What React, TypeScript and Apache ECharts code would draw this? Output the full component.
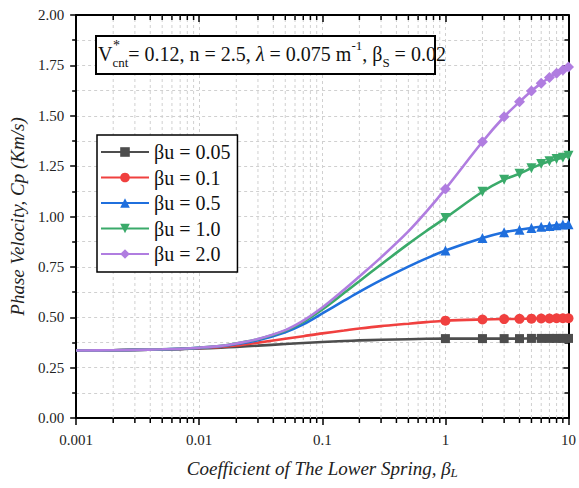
import React, { useEffect, useRef } from "react";
import * as echarts from "echarts";

const xValues = [0.001, 0.002, 0.003, 0.005, 0.007, 0.01, 0.015, 0.02, 0.03, 0.05, 0.07, 0.1, 0.15, 0.2, 0.3, 0.5, 0.7, 1, 2, 3, 4, 5, 6, 7, 8, 9, 10];
const bu005 = [0.335, 0.336, 0.338, 0.34, 0.342, 0.345, 0.349, 0.353, 0.359, 0.367, 0.372, 0.377, 0.382, 0.385, 0.388, 0.391, 0.393, 0.394, 0.394, 0.394, 0.394, 0.395, 0.395, 0.395, 0.395, 0.395, 0.395];
const bu01 = [0.335, 0.336, 0.338, 0.34, 0.343, 0.347, 0.353, 0.36, 0.374, 0.393, 0.406, 0.42, 0.434, 0.444, 0.456, 0.468, 0.476, 0.483, 0.489, 0.491, 0.492, 0.493, 0.494, 0.494, 0.495, 0.495, 0.495];
const bu05 = [0.335, 0.336, 0.338, 0.34, 0.343, 0.348, 0.356, 0.367, 0.386, 0.426, 0.465, 0.519, 0.582, 0.626, 0.684, 0.751, 0.792, 0.831, 0.893, 0.922, 0.934, 0.943, 0.949, 0.953, 0.957, 0.96, 0.962];
const bu10 = [0.335, 0.336, 0.338, 0.341, 0.344, 0.349, 0.358, 0.37, 0.391, 0.433, 0.477, 0.539, 0.62, 0.679, 0.762, 0.864, 0.928, 0.993, 1.123, 1.183, 1.212, 1.24, 1.26, 1.274, 1.285, 1.292, 1.301];
const bu20 = [0.335, 0.336, 0.338, 0.341, 0.344, 0.349, 0.358, 0.37, 0.392, 0.436, 0.483, 0.548, 0.636, 0.702, 0.797, 0.926, 1.024, 1.137, 1.371, 1.495, 1.569, 1.623, 1.661, 1.69, 1.711, 1.727, 1.742];

const seriesNames = ["βu = 0.05", "βu = 0.1", "βu = 0.5", "βu = 1.0", "βu = 2.0"];
const seriesValues = [bu005, bu01, bu05, bu10, bu20];
const seriesColors = ["#4d4d4d", "#f0403f", "#1f6fdd", "#3aaa6a", "#b07de0"];
const seriesSymbols = ["rect", "circle", "triangle", "path://M0,0 L10,0 L5,9 Z", "diamond"];
const seriesSymbolSizes = [9, 10, 10, 10, 11];

const xTickLabels: Record<string, string> = { "0.001": "0.001", "0.01": "0.01", "0.1": "0.1", "1": "1", "10": "10" };
const xMinorTicks = [0.002, 0.003, 0.004, 0.005, 0.006, 0.007, 0.008, 0.009, 0.02, 0.03, 0.04, 0.05, 0.06, 0.07, 0.08, 0.09, 0.2, 0.3, 0.4, 0.5, 0.6, 0.7, 0.8, 0.9, 2, 3, 4, 5, 6, 7, 8, 9];

const FONT = "Liberation Serif";

export default function App() {
  const ref = useRef<HTMLDivElement>(null);
  useEffect(() => {
    if (!ref.current) return;
    const chart = echarts.init(ref.current, null, { renderer: "svg" });
    const lineSeries = seriesNames.map((name, i) => ({
      name,
      type: "line",
      smooth: 0.35,
      symbol: seriesSymbols[i],
      symbolSize: seriesSymbolSizes[i],
      showSymbol: true,
      z: 3 + i,
      color: seriesColors[i],
      lineStyle: { width: 2.6, color: seriesColors[i] },
      itemStyle: { color: seriesColors[i] },
      data: xValues.map((x, j) =>
        x >= 1 ? { value: [x, seriesValues[i][j]] } : { value: [x, seriesValues[i][j]], symbol: "none" }
      ),
    }));
    const minorSeries = {
      type: "custom",
      name: "minor",
      silent: true,
      clip: false,
      z: 1,
      xAxisIndex: 0,
      yAxisIndex: 0,
      data: xMinorTicks.map((x) => [x, 0]),
      encode: { x: 0, y: 1 },
      renderItem: (params: any, api: any) => {
        const x = api.value(0);
        const p0 = api.coord([x, 0]);
        const p1 = api.coord([x, 2]);
        return {
          type: "group",
          children: [
            {
              type: "line",
              shape: { x1: p0[0], y1: p0[1], x2: p1[0], y2: p1[1] },
              style: { stroke: "#d0d0d0", lineWidth: 1, lineDash: [3, 3] },
            },
            {
              type: "line",
              shape: { x1: p0[0], y1: p0[1], x2: p0[0], y2: p0[1] + 5 },
              style: { stroke: "#000", lineWidth: 1.5 },
            },
            {
              type: "line",
              shape: { x1: p1[0], y1: p1[1], x2: p1[0], y2: p1[1] + 5 },
              style: { stroke: "#000", lineWidth: 1.5 },
            },
          ],
        };
      },
    };
    const option: any = {
      animation: false,
      backgroundColor: "#fff",
      textStyle: { fontFamily: FONT },
      grid: { left: 76, right: 9, top: 15, bottom: 70, containLabel: false },
      legend: {
        data: seriesNames,
        orient: "vertical",
        left: 97,
        top: 135,
        itemWidth: 48,
        itemHeight: 12,
        itemGap: 5.5,
        padding: [7, 7, 8, 3],
        borderColor: "#000",
        borderWidth: 1.5,
        backgroundColor: "#fff",
        textStyle: { fontFamily: FONT, fontSize: 20, color: "#111", lineHeight: 20 },
      },
      xAxis: [
        {
          type: "log",
          logBase: 10,
          min: 0.001,
          max: 10,
          position: "bottom",
          name: "Coefficient of The Lower Spring, β{s|L}",
          nameLocation: "middle",
          nameGap: 40,
          nameTextStyle: {
            fontFamily: FONT,
            fontStyle: "italic",
            fontSize: 19,
            color: "#222",
            rich: { s: { fontFamily: FONT, fontStyle: "italic", fontSize: 13, color: "#222", verticalAlign: "bottom", padding: [8, 0, 0, 0] } },
          },
          axisLine: { show: true, onZero: false, lineStyle: { color: "#000", width: 2 } },
          axisTick: { show: true, inside: false, length: 7, lineStyle: { color: "#000", width: 1.5 } },
          axisLabel: {
            margin: 14,
            fontFamily: FONT,
            fontSize: 15,
            color: "#222",
            formatter: (v: number) => xTickLabels[String(v)] ?? String(v),
          },
          splitLine: { show: true, lineStyle: { color: "#d0d0d0", type: [3, 3], width: 1 } },
        },
        {
          type: "log",
          logBase: 10,
          min: 0.001,
          max: 10,
          position: "top",
          axisLine: { show: true, onZero: false, lineStyle: { color: "#000", width: 2 } },
          axisTick: { show: true, inside: true, length: 7, lineStyle: { color: "#000", width: 1.5 } },
          axisLabel: { show: false },
          splitLine: { show: false },
        },
      ],
      yAxis: [
        {
          type: "value",
          min: 0,
          max: 2,
          interval: 0.25,
          position: "left",
          name: "Phase Velocity, Cp (Km/s)",
          nameLocation: "middle",
          nameGap: 44,
          nameTextStyle: { fontFamily: FONT, fontStyle: "italic", fontSize: 19, color: "#222" },
          axisLine: { show: true, onZero: false, lineStyle: { color: "#000", width: 2 } },
          axisTick: { show: true, inside: false, length: 6, lineStyle: { color: "#000", width: 1.5 } },
          minorTick: { show: true, splitNumber: 2, length: 4, lineStyle: { color: "#000", width: 1.5 } },
          axisLabel: {
            margin: 12,
            fontFamily: FONT,
            fontSize: 15,
            color: "#222",
            formatter: (v: number) => v.toFixed(2),
          },
          splitLine: { show: true, lineStyle: { color: "#d0d0d0", type: [3, 3], width: 1 } },
          minorSplitLine: { show: true, lineStyle: { color: "#d0d0d0", type: [3, 3], width: 1 } },
        },
        {
          type: "value",
          min: 0,
          max: 2,
          interval: 0.25,
          position: "right",
          axisLine: { show: true, onZero: false, lineStyle: { color: "#000", width: 2 } },
          axisTick: { show: true, inside: true, length: 6, lineStyle: { color: "#000", width: 1.5 } },
          minorTick: { show: true, splitNumber: 2, length: 4, lineStyle: { color: "#000", width: 1.5 } },
          axisLabel: { show: false },
          splitLine: { show: false },
        },
      ],
      graphic: [
        {
          type: "rect",
          left: 95,
          top: 35,
          z: 100,
          shape: { width: 339, height: 38 },
          style: { fill: "#fff", stroke: "#000", lineWidth: 2 },
        },
        {
          type: "text",
          left: 98,
          top: 39,
          z: 101,
          style: {
            text: "V{sub|cnt}= 0.12, n = 2.5, {i|λ} = 0.075 m{sup|-1}, β{sub|S} = 0.02",
            fontFamily: FONT,
            fontSize: 20,
            fill: "#111",
            lineHeight: 30,
            rich: {
              sub: { fontFamily: FONT, fontSize: 13, fill: "#111", verticalAlign: "bottom", lineHeight: 13 },
              sup: { fontFamily: FONT, fontSize: 13, fill: "#111", verticalAlign: "top", lineHeight: 13 },
              i: { fontFamily: FONT, fontSize: 20, fontStyle: "italic", fill: "#111" },
            },
          },
        },
        {
          type: "text",
          left: 113,
          top: 38,
          z: 102,
          style: { text: "*", fontFamily: FONT, fontSize: 14, fill: "#111" },
        },
      ],
      series: [minorSeries, ...lineSeries],
    };
    chart.setOption(option);
    return () => chart.dispose();
  }, []);
  return <div ref={ref} style={{ position: "absolute", left: 0, top: 0, width: 579, height: 488 }} />;
}
